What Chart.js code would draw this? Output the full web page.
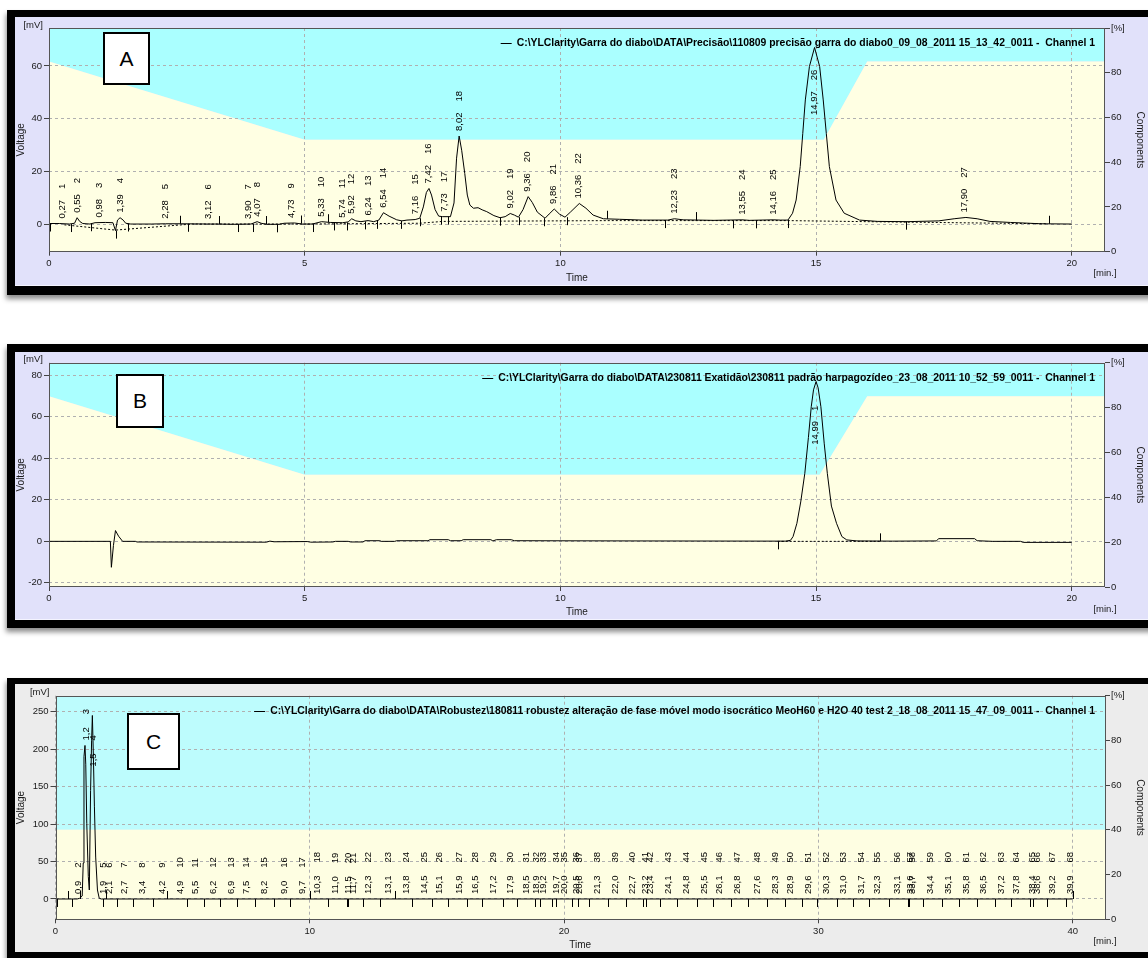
<!DOCTYPE html>
<html>
<head>
<meta charset="utf-8">
<title>Cromatogramas A, B e C</title>
<script src="https://cdn.jsdelivr.net/npm/chart.js@4.4.1/dist/chart.umd.min.js"></script>
<style>
body
{
    margin: 0;
    width: 1148px;
    height: 958px;
    position: relative;
    overflow: hidden;
    background: #fff;
    font-family: "Liberation Sans", Arial, sans-serif;
}

.frame
{
    position: absolute;
    left: 7px;
    width: 1170px;
    background: #000;
    box-shadow: -1px 4px 5px rgba(0, 0, 0, 0.45);
}

.inner
{
    position: absolute;
    left: 8px;
    right: 0;
}

.inner canvas
{
    position: absolute;
    left: 0;
    top: 0;
}

.tag
{
    position: absolute;
    box-sizing: border-box;
    background: #fff;
    border: 2px solid #000;
    display: flex;
    align-items: center;
    justify-content: center;
    font-size: 21px;
    color: #000;
}
</style>
</head>
<body>

<div class="frame" style="top:10px;height:285px">
    <div class="inner" style="top:7px;height:268px;background:#e1e1fa;border-bottom:1px solid #f4f4ff">
        <canvas id="chartA" width="1133" height="268"></canvas>
    </div>
</div>

<div class="frame" style="top:344px;height:284px">
    <div class="inner" style="top:8px;height:267px;background:#e1e1fa;border-bottom:1px solid #f4f4ff">
        <canvas id="chartB" width="1133" height="267"></canvas>
    </div>
</div>

<div class="frame" style="top:678px;height:290px">
    <div class="inner" style="top:6px;height:268px;background:#ececec">
        <canvas id="chartC" width="1133" height="268"></canvas>
    </div>
</div>

<div class="tag" style="left:103px;top:32px;width:47px;height:53px">A</div>
<div class="tag" style="left:116px;top:374px;width:48px;height:54px">B</div>
<div class="tag" style="left:127px;top:713px;width:53px;height:57px">C</div>

<script>
// ---------- shared ----------
const pctTicks = [0, 20, 40, 60, 80, 100];

// ---------- panel A ----------
const aFile =
    "C:\\YLClarity\\Garra do diabo\\DATA\\Precisão\\110809 precisão garra do diabo0_09_08_2011 15_13_42_0011 -  Channel 1";

const aXTicks = [0, 5, 10, 15, 20];
const aYTicks = [0, 20, 40, 60];

const aTime = [
    0.00, 0.20, 0.40, 0.50, 0.55, 0.60, 0.66, 0.80, 0.90, 1.10,
    1.25, 1.30, 1.34, 1.39, 1.45, 1.50, 1.60, 2.00, 2.28, 2.60,
    3.12, 3.30, 3.60, 3.95, 4.07, 4.15, 4.25, 4.50, 4.60, 4.80,
    4.95, 5.15, 5.33, 5.50, 5.74, 5.85, 5.92, 6.00, 6.10, 6.24,
    6.35, 6.45, 6.54, 6.65, 6.80, 6.90, 7.00, 7.16, 7.25, 7.32,
    7.38, 7.43, 7.48, 7.55, 7.62, 7.70, 7.85, 7.92, 7.97, 8.02,
    8.07, 8.13, 8.18, 8.23, 8.30, 8.39, 8.47, 8.56, 8.70, 8.82,
    8.92, 9.02, 9.10, 9.18, 9.27, 9.37, 9.45, 9.55, 9.70, 9.78,
    9.88, 9.98, 10.09, 10.20, 10.37, 10.50, 10.64, 10.84, 11.16, 11.60,
    12.10, 12.23, 12.40, 13.00, 13.55, 13.70, 14.16, 14.30, 14.45, 14.54,
    14.61, 14.69, 14.74, 14.79, 14.87, 14.97, 15.07, 15.14, 15.20, 15.26,
    15.39, 15.55, 15.85, 16.20, 16.80, 17.40, 17.70, 17.93, 18.15, 18.40,
    18.80, 19.40, 20.00
];

const aSignal = [
    0.2, 0.2, 0.0, 0.3, 2.4, 1.0, 0.2, 0.0, 0.5, 0.6,
    0.5, -2.5, 1.5, 2.4, 1.5, 0.3, 0.0, 0.0, 0.1, 0.1,
    0.0, 0.0, -0.1, 0.0, 0.9, 0.3, -0.1, -0.1, 0.3, 0.4,
    0.0, 0.0, 0.9, 0.6, 0.5, 0.8, 2.0, 1.2, 0.9, 1.3,
    0.9, 1.5, 4.3, 3.0, 1.6, 1.2, 1.5, 1.7, 2.2, 6.5,
    12.0, 13.5, 11.0, 5.5, 3.0, 2.8, 2.8, 8.0, 25.0, 33.4,
    28.0, 19.2, 11.0, 7.2, 6.0, 6.2, 5.4, 4.7, 3.2, 2.4,
    2.8, 4.0, 3.4, 2.6, 5.5, 10.4, 8.2, 4.5, 2.2, 3.8,
    5.7, 3.8, 2.6, 4.6, 7.8, 6.0, 3.4, 2.0, 1.8, 1.5,
    1.5, 2.0, 1.6, 1.4, 1.6, 1.4, 1.6, 1.5, 1.5, 4.1,
    9.1, 21.8, 34.4, 47.1, 59.8, 67.0, 59.8, 47.1, 34.4, 21.8,
    9.1, 4.1, 1.5, 1.0, 0.9, 1.2, 2.0, 2.5, 2.0, 1.0,
    0.6, 0.1, 0.0
];

const aBaseTime = [0.30, 1.30, 2.80, 5.00, 7.25, 7.70, 11.00, 14.45, 16.00, 19.50];
const aBaseSignal = [-0.3, -2.3, 0.0, 0.0, 0.3, 1.0, 1.3, 1.3, 0.9, 0.1];

const aGradTime = [0, 5, 15.15, 16.0, 20.65];
const aGradPct = [85, 50, 50, 85, 85];

const aPeakTime = [
    0.27, 0.55, 0.98, 1.39, 2.28, 3.12, 3.90, 4.07, 4.73, 5.33,
    5.74, 5.92, 6.24, 6.54, 7.16, 7.42, 7.73, 8.02, 9.02, 9.36,
    9.86, 10.36, 12.23, 13.55, 14.16, 14.97, 17.90
];

const aPeakHeight = [
    0.2, 2.4, 0.6, 2.4, 0.1, 0.0, 0.0, 0.9, 0.4, 0.9,
    0.5, 2.0, 1.3, 4.3, 1.8, 13.5, 2.8, 33.4, 4.0, 10.4,
    5.7, 7.8, 2.0, 1.6, 1.6, 67.0, 2.5
];

const aPeakNum = [
    1, 2, 3, 4, 5, 6, 7, 8, 9, 10,
    11, 12, 13, 14, 15, 16, 17, 18, 19, 20,
    21, 22, 23, 24, 25, 26, 27
];

const aMarkTime = [
    0.02, 0.43, 0.83, 1.31, 1.55, 2.56, 2.72, 3.32, 3.70, 3.99,
    4.24, 4.45, 4.92, 5.17, 5.46, 5.57, 5.82, 6.18, 6.41, 6.88,
    7.25, 7.66, 7.81, 8.82, 9.19, 9.68, 10.12, 10.92, 12.04, 12.66,
    13.37, 13.83, 14.46, 16.76, 19.56
];

const aMarkLevel = [
    0.2, 0.0, 0.3, -2.5, 0.2, 0.1, 0.1, 0.0, 0.0, 0.0,
    0.0, -0.1, 0.2, 0.0, 0.7, 0.6, 0.6, 1.0, 1.2, 1.2,
    2.2, 2.8, 2.8, 2.4, 2.6, 2.2, 2.6, 2.0, 1.5, 1.5,
    1.4, 1.4, 1.5, 0.9, 0.1
];

const aMarkDir = [
    -1, -1, -1, -1, -1, 1, -1, 1, -1, -1,
    1, -1, 1, -1, 1, -1, -1, -1, -1, -1,
    -1, -1, -1, -1, -1, -1, -1, 1, -1, 1,
    -1, -1, -1, -1, 1
];

// ---------- panel B ----------
const bFile =
    "C:\\YLClarity\\Garra do diabo\\DATA\\230811 Exatidão\\230811 padrão harpagozídeo_23_08_2011 10_52_59_0011 -  Channel 1";

const bXTicks = [0, 5, 10, 15, 20];
const bYTicks = [-20, 0, 20, 40, 60, 80];

const bTime = [
    0.00, 1.20, 1.22, 1.26, 1.30, 1.36, 1.44, 1.69, 1.72, 4.25,
    4.32, 4.40, 5.05, 5.12, 5.55, 5.60, 5.85, 5.90, 6.14, 6.18,
    6.47, 6.50, 6.76, 6.80, 7.41, 7.45, 7.81, 7.85, 8.06, 8.10,
    8.64, 8.68, 8.75, 9.04, 9.10, 11.40, 14.40, 14.50, 14.55, 14.625,
    14.70, 14.78, 14.85, 14.906, 14.95, 15.00, 15.04, 15.094, 15.16, 15.22,
    15.30, 15.40, 15.505, 15.60, 15.80, 16.50, 17.35, 17.40, 18.10, 18.15,
    18.45, 19.00, 19.05, 20.00
];

const bSignal = [
    0.0, 0.0, -12.5, -2.0, 5.2, 2.5, 0.0, 0.0, -0.3, -0.4,
    0.1, -0.2, -0.1, -0.4, -0.3, 0.0, 0.0, -0.3, -0.3, 0.3,
    0.3, 0.0, 0.0, 0.3, 0.3, 0.8, 0.8, 0.3, 0.3, 0.8,
    0.8, 0.2, 0.8, 0.8, 0.3, 0.2, 0.1, 0.5, 2.3, 8.7,
    19.0, 32.8, 50.0, 64.9, 73.0, 77.0, 74.0, 64.9, 47.0, 32.8,
    17.0, 8.7, 2.3, 0.7, 0.2, 0.1, 0.2, 1.3, 1.3, 0.3,
    0.0, 0.0, -0.5, -0.5
];

const bBaseTime = [14.25, 16.25];
const bBaseSignal = [0, 0];

const bGradTime = [0, 5, 15.07, 16.0, 20.65];
const bGradPct = [85, 50, 50, 85, 85];

const bPeakTime = [14.99];
const bPeakHeight = [77.0];
const bPeakNum = [1];

const bMarkTime = [14.25, 16.25];
const bMarkLevel = [0, 0];
const bMarkDir = [-1, 1];

// ---------- panel C ----------
const cFile =
    "C:\\YLClarity\\Garra do diabo\\DATA\\Robustez\\180811 robustez alteração de fase móvel modo isocrático MeoH60 e H2O 40 test 2_18_08_2011 15_47_09_0011 -  Channel 1";

const cXTicks = [0, 10, 20, 30, 40];
const cYTicks = [0, 50, 100, 150, 200, 250];

const cTime = [
    0.00, 0.85, 0.95, 1.05, 1.09, 1.12, 1.16, 1.19, 1.23, 1.29,
    1.33, 1.38, 1.42, 1.45, 1.49, 1.53, 1.58, 1.65, 1.72, 1.80,
    40.00
];

const cSignal = [
    0, 0, 1, 4, 48, 190, 205, 180, 101, 30,
    12, 145, 212, 245, 190, 123, 56, 12, 1, 0,
    0
];

const cGradTime = [0, 41.27];
const cGradPct = [40, 40];

const cPeakTime = [
    0.9, 1.2, 1.5, 1.9, 2.1, 2.7, 3.4, 4.2, 4.9, 5.5,
    6.2, 6.9, 7.5, 8.2, 9.0, 9.7, 10.3, 11.0, 11.5, 11.7,
    12.3, 13.1, 13.8, 14.5, 15.1, 15.9, 16.5, 17.2, 17.9, 18.5,
    18.9, 19.2, 19.7, 20.0, 20.5, 20.6, 21.3, 22.0, 22.7, 23.2,
    23.4, 24.1, 24.8, 25.5, 26.1, 26.8, 27.6, 28.3, 28.9, 29.6,
    30.3, 31.0, 31.7, 32.3, 33.1, 33.6, 33.7, 34.4, 35.1, 35.8,
    36.5, 37.2, 37.8, 38.4, 38.6, 39.2, 39.9
];

const cPeakHeight = [
    0, 205, 170, 0, 0, 0, 0, 0, 0, 0,
    0, 0, 0, 0, 0, 0, 0, 0, 0, 0,
    0, 0, 0, 0, 0, 0, 0, 0, 0, 0,
    0, 0, 0, 0, 0, 0, 0, 0, 0, 0,
    0, 0, 0, 0, 0, 0, 0, 0, 0, 0,
    0, 0, 0, 0, 0, 0, 0, 0, 0, 0,
    0, 0, 0, 0, 0, 0, 0
];

// numbering in this run starts at peak 2
const cPeakNum =
    cPeakTime.map((t, i) => i + 2);

const cMarkTime = [
    0.07, 0.50, 0.66, 0.96, 1.88, 1.99, 2.43, 3.06, 3.82, 4.37,
    5.16, 5.84, 6.47, 7.13, 7.84, 8.59, 9.22, 10.00, 10.73, 11.45,
    11.51, 12.10, 12.76, 13.35, 14.03, 14.82, 15.45, 16.17, 16.78, 17.61,
    18.16, 18.86, 19.05, 19.54, 19.68, 20.32, 20.56, 20.99, 21.71, 22.43,
    23.12, 23.21, 23.77, 24.45, 25.21, 25.87, 26.56, 27.24, 27.97, 28.69,
    29.34, 29.96, 30.74, 31.37, 32.00, 32.79, 33.51, 33.57, 34.10, 34.85,
    35.53, 36.22, 36.94, 37.57, 38.32, 38.43, 38.98, 39.74, 40.00
];

const cMarkDir = [
    -1, 1, -1, 1, -1, 1, -1, -1, -1, 1,
    -1, -1, -1, -1, -1, -1, -1, 1, -1, -1,
    -1, -1, -1, 1, -1, -1, -1, -1, -1, -1,
    -1, -1, -1, -1, -1, -1, -1, -1, -1, -1,
    -1, -1, -1, -1, -1, -1, -1, -1, -1, -1,
    -1, -1, -1, -1, -1, -1, -1, -1, -1, -1,
    -1, -1, -1, -1, -1, -1, -1, -1, 1
];

// ---------- drawing ----------
const FONT = "'Liberation Sans', Arial, sans-serif";

Chart.defaults.font.family = FONT;
Chart.defaults.font.size = 9.5;
Chart.defaults.color = "#1a1a1a";

function points(xs, ys)
{
    return xs.map((x, i) => ({ x: x, y: ys[i] }));
}

// frame, integration marks, peak captions, file legend, unit captions
const clarityPlugin =
{
    id: "clarity",

    afterDatasetsDraw(chart, args, opts)
    {
        const ctx = chart.ctx;
        const area = chart.chartArea;
        const xScale = chart.scales.x;
        const yScale = chart.scales.y;

        ctx.save();

        ctx.strokeStyle = "#555";
        ctx.lineWidth = 1;
        ctx.strokeRect(
            Math.round(area.left) + 0.5,
            Math.round(area.top) + 0.5,
            Math.round(area.width) - 1,
            Math.round(area.height) - 1
        );

        ctx.strokeStyle = "#000";
        ctx.beginPath();

        for(let i = 0; i < opts.markTime.length; i++)
        {
            const level =
                opts.markLevel ? opts.markLevel[i] : 0;

            const x =
                Math.round(xScale.getPixelForValue(opts.markTime[i])) + 0.5;

            const y =
                yScale.getPixelForValue(level);

            ctx.moveTo(x, y);
            ctx.lineTo(x, y - opts.markDir[i] * 8);
        }

        ctx.stroke();

        ctx.fillStyle = "#000";
        ctx.font = `9.5px ${FONT}`;
        ctx.textAlign = "left";
        ctx.textBaseline = "middle";

        for(let i = 0; i < opts.peakTime.length; i++)
        {
            const t = opts.peakTime[i];
            const x = xScale.getPixelForValue(t);

            let base =
                yScale.getPixelForValue(opts.peakHeight[i]) - 5;

            if(opts.labelCap && base < area.top + opts.labelCap)
            {
                base = area.top + opts.labelCap;
            }

            const rt =
                t.toFixed(opts.decimals).replace(".", ",");

            const w = ctx.measureText(rt).width;

            ctx.save();
            ctx.translate(x, base);
            ctx.rotate(-Math.PI / 2);
            ctx.fillText(rt, 0, 0);
            ctx.fillText(String(opts.peakNum[i]), w + opts.labelGap, 0);
            ctx.restore();
        }

        // legend line of the signal dataset
        const file = chart.data.datasets[0].label;
        const lx = area.right - 10;
        const ly = Math.round(area.top + 15);

        ctx.font = `bold 10.4px ${FONT}`;
        ctx.textAlign = "right";
        ctx.fillText(file, lx, ly);

        const tw = ctx.measureText(file).width;

        ctx.beginPath();
        ctx.moveTo(lx - tw - 16, ly + 0.5);
        ctx.lineTo(lx - tw - 5, ly + 0.5);
        ctx.stroke();

        ctx.font = `9.5px ${FONT}`;
        ctx.fillStyle = "#1a1a1a";
        ctx.textAlign = "right";
        ctx.fillText("[mV]", area.left - 6, area.top - 3);
        ctx.textAlign = "center";
        ctx.fillText("[min.]", area.right, area.bottom + 22);

        ctx.restore();
    }
};

function buildChart(id, p)
{
    return new Chart(
        document.getElementById(id),
        {
            type: "line",
            data:
            {
                datasets: [
                    {
                        label: p.file,
                        data: points(p.time, p.signal),
                        borderColor: "#000",
                        borderWidth: 1,
                        pointRadius: 0,
                        tension: 0,
                        order: 0
                    },
                    {
                        label: "baseline",
                        data: points(p.baseTime, p.baseSignal),
                        borderColor: "#000",
                        borderWidth: 1,
                        borderDash: [2, 2],
                        pointRadius: 0,
                        order: 1
                    },
                    {
                        label: "eluent low",
                        data: points(p.gradTime, p.gradPct),
                        yAxisID: "y2",
                        borderColor: "transparent",
                        borderWidth: 0,
                        pointRadius: 0,
                        fill: "start",
                        backgroundColor: p.yellow,
                        order: 4
                    },
                    {
                        label: "eluent high",
                        data: points(p.gradTime, p.gradPct),
                        yAxisID: "y2",
                        borderColor: "transparent",
                        borderWidth: 0,
                        pointRadius: 0,
                        fill: "end",
                        backgroundColor: p.cyan,
                        order: 5
                    }
                ]
            },
            options:
            {
                responsive: false,
                animation: false,
                events: [],
                layout:
                {
                    padding: { top: p.padTop, left: 0, right: 0, bottom: 0 }
                },
                plugins:
                {
                    legend: { display: false },
                    tooltip: { enabled: false },
                    filler: { drawTime: "beforeDraw" },
                    clarity:
                    {
                        peakTime: p.peakTime,
                        peakHeight: p.peakHeight,
                        peakNum: p.peakNum,
                        decimals: p.decimals,
                        labelCap: p.labelCap,
                        labelGap: p.labelGap,
                        markTime: p.markTime,
                        markLevel: p.markLevel,
                        markDir: p.markDir
                    }
                },
                scales:
                {
                    x:
                    {
                        type: "linear",
                        min: 0,
                        max: p.xMax,
                        afterBuildTicks: s => { s.ticks = p.xTicks.map(v => ({ value: v })); },
                        afterFit: s => { s.height = p.xHeight; },
                        ticks: { autoSkip: false, maxRotation: 0, padding: 2 },
                        grid: { color: "#b0b0b0", tickLength: 4, tickColor: "#444" },
                        border: { display: false, dash: [3, 3] },
                        title:
                        {
                            display: true,
                            text: "Time",
                            font: { size: 10 },
                            padding: { top: 0, bottom: 1 }
                        }
                    },
                    y:
                    {
                        position: "left",
                        min: p.yMin,
                        max: p.yMax,
                        afterBuildTicks: s => { s.ticks = p.yTicks.map(v => ({ value: v })); },
                        afterFit: s => { s.width = p.leftWidth; },
                        ticks: { padding: 2 },
                        grid: { color: "#b0b0b0", tickLength: 5, tickColor: "#444" },
                        border: { display: false, dash: [3, 3] },
                        title:
                        {
                            display: true,
                            text: "Voltage",
                            font: { size: 10 },
                            padding: { top: 0, bottom: 0 }
                        }
                    },
                    y2:
                    {
                        position: "right",
                        min: 0,
                        max: 100,
                        afterBuildTicks: s => { s.ticks = pctTicks.map(v => ({ value: v })); },
                        afterFit: s => { s.width = p.rightWidth; },
                        ticks:
                        {
                            padding: 1,
                            callback: v => v === 100 ? "[%]" : v
                        },
                        grid: { drawOnChartArea: false, tickLength: 5, tickColor: "#444" },
                        border: { display: false },
                        title:
                        {
                            display: true,
                            text: "Components",
                            font: { size: 10 },
                            padding: { top: 2.5, bottom: 0 }
                        }
                    }
                }
            },
            plugins: [clarityPlugin]
        }
    );
}

buildChart("chartA",
{
    file: aFile,
    time: aTime, signal: aSignal,
    baseTime: aBaseTime, baseSignal: aBaseSignal,
    gradTime: aGradTime, gradPct: aGradPct,
    peakTime: aPeakTime, peakHeight: aPeakHeight, peakNum: aPeakNum,
    markTime: aMarkTime, markLevel: aMarkLevel, markDir: aMarkDir,
    xTicks: aXTicks, yTicks: aYTicks,
    xMax: 20.65, yMin: -10.5, yMax: 74.4,
    decimals: 2, labelCap: 87, labelGap: 11,
    cyan: "#aaffff", yellow: "#ffffe3",
    padTop: 11, leftWidth: 34, rightWidth: 43, xHeight: 33.3
});

buildChart("chartB",
{
    file: bFile,
    time: bTime, signal: bSignal,
    baseTime: bBaseTime, baseSignal: bBaseSignal,
    gradTime: bGradTime, gradPct: bGradPct,
    peakTime: bPeakTime, peakHeight: bPeakHeight, peakNum: bPeakNum,
    markTime: bMarkTime, markLevel: bMarkLevel, markDir: bMarkDir,
    xTicks: bXTicks, yTicks: bYTicks,
    xMax: 20.65, yMin: -22, yMax: 86.1,
    decimals: 2, labelCap: 82, labelGap: 10,
    cyan: "#aaffff", yellow: "#ffffe3",
    padTop: 10.7, leftWidth: 34, rightWidth: 43, xHeight: 32
});

buildChart("chartC",
{
    file: cFile,
    time: cTime, signal: cSignal,
    baseTime: [], baseSignal: [],
    gradTime: cGradTime, gradPct: cGradPct,
    peakTime: cPeakTime, peakHeight: cPeakHeight, peakNum: cPeakNum,
    markTime: cMarkTime, markLevel: null, markDir: cMarkDir,
    xTicks: cXTicks, yTicks: cYTicks,
    xMax: 41.27, yMin: -27.1, yMax: 271.4,
    decimals: 1, labelCap: 0, labelGap: 13,
    cyan: "#bdfcfd", yellow: "#fefee2",
    padTop: 11.7, leftWidth: 40.5, rightWidth: 43, xHeight: 32.7
});
</script>
</body>
</html>
